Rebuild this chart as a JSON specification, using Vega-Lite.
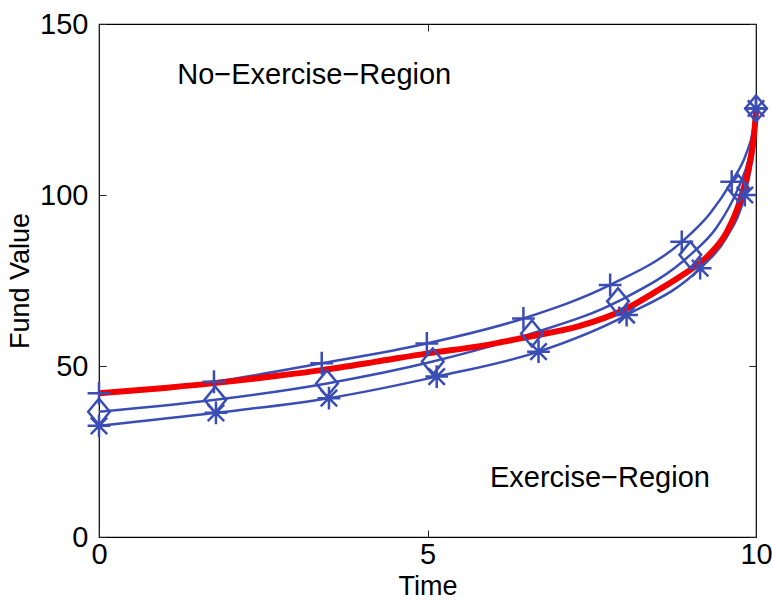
{
  "$schema": "https://vega.github.io/schema/vega-lite/v6.json",
  "width": 657,
  "height": 513,
  "autosize": {"type": "none"},
  "padding": {"left": 99, "top": 24, "right": 16, "bottom": 63},
  "background": "white",
  "config": {
    "font": "Liberation Sans",
    "view": {"stroke": "black", "strokeWidth": 1.2},
    "axis": {
      "domain": false,
      "grid": false,
      "tickSize": -7,
      "tickColor": "#222222",
      "tickWidth": 1,
      "labelFont": "Liberation Sans",
      "labelFontSize": 29,
      "labelColor": "black",
      "titleFont": "Liberation Sans",
      "titleFontWeight": "normal",
      "titleColor": "black"
    }
  },
  "datasets": {
    "blue": [
      {"s": "plus", "t": 0, "v": 42.0},
      {"s": "plus", "t": 1.75, "v": 45.4},
      {"s": "plus", "t": 3.39, "v": 50.8},
      {"s": "plus", "t": 4.99, "v": 56.6},
      {"s": "plus", "t": 6.46, "v": 63.9},
      {"s": "plus", "t": 7.78, "v": 73.7},
      {"s": "plus", "t": 8.87, "v": 86.3},
      {"s": "plus", "t": 9.63, "v": 103.9},
      {"s": "plus", "t": 10, "v": 125.3},
      {"s": "diamond", "t": 0, "v": 36.6},
      {"s": "diamond", "t": 1.77, "v": 40.1},
      {"s": "diamond", "t": 3.47, "v": 44.9},
      {"s": "diamond", "t": 5.08, "v": 51.3},
      {"s": "diamond", "t": 6.59, "v": 59.5},
      {"s": "diamond", "t": 7.9, "v": 68.9},
      {"s": "diamond", "t": 9.0, "v": 82.5},
      {"s": "diamond", "t": 9.73, "v": 102.0},
      {"s": "diamond", "t": 10, "v": 125.3},
      {"s": "star", "t": 0, "v": 32.5},
      {"s": "star", "t": 1.78, "v": 36.3},
      {"s": "star", "t": 3.5, "v": 40.6},
      {"s": "star", "t": 5.14, "v": 46.9},
      {"s": "star", "t": 6.69, "v": 54.2},
      {"s": "star", "t": 8.03, "v": 64.9},
      {"s": "star", "t": 9.15, "v": 78.6},
      {"s": "star", "t": 9.83, "v": 100.0},
      {"s": "star", "t": 10, "v": 125.3}
    ],
    "bluecurve": [
      {"s": "plus", "t": 0, "v": 42.0},
      {"s": "plus", "t": 1.75, "v": 45.4},
      {"s": "plus", "t": 3.39, "v": 50.8},
      {"s": "plus", "t": 4.99, "v": 56.6},
      {"s": "plus", "t": 6.46, "v": 63.9},
      {"s": "plus", "t": 7.78, "v": 73.7},
      {"s": "plus", "t": 8.87, "v": 86.3},
      {"s": "plus", "t": 9.3, "v": 94.6},
      {"s": "plus", "t": 9.63, "v": 103.9},
      {"s": "plus", "t": 9.85, "v": 112.0},
      {"s": "plus", "t": 9.95, "v": 118.5},
      {"s": "plus", "t": 10, "v": 125.3},
      {"s": "diamond", "t": 0, "v": 36.6},
      {"s": "diamond", "t": 1.77, "v": 40.1},
      {"s": "diamond", "t": 3.47, "v": 44.9},
      {"s": "diamond", "t": 5.08, "v": 51.3},
      {"s": "diamond", "t": 6.59, "v": 59.5},
      {"s": "diamond", "t": 7.9, "v": 68.9},
      {"s": "diamond", "t": 9.0, "v": 82.5},
      {"s": "diamond", "t": 9.4, "v": 90.5},
      {"s": "diamond", "t": 9.73, "v": 102.0},
      {"s": "diamond", "t": 9.9, "v": 111.3},
      {"s": "diamond", "t": 9.96, "v": 117.0},
      {"s": "diamond", "t": 10, "v": 125.3},
      {"s": "star", "t": 0, "v": 32.5},
      {"s": "star", "t": 1.78, "v": 36.3},
      {"s": "star", "t": 3.5, "v": 40.6},
      {"s": "star", "t": 5.14, "v": 46.9},
      {"s": "star", "t": 6.69, "v": 54.2},
      {"s": "star", "t": 8.03, "v": 64.9},
      {"s": "star", "t": 9.15, "v": 78.6},
      {"s": "star", "t": 9.55, "v": 87.5},
      {"s": "star", "t": 9.83, "v": 100.0},
      {"s": "star", "t": 9.92, "v": 107.8},
      {"s": "star", "t": 9.97, "v": 114.6},
      {"s": "star", "t": 10, "v": 125.3}
    ],
    "red": [
      {"t": 0, "v": 42.0},
      {"t": 1.0, "v": 43.6},
      {"t": 2.0, "v": 45.5},
      {"t": 2.75, "v": 47.2},
      {"t": 3.39, "v": 48.8},
      {"t": 4.2, "v": 51.2},
      {"t": 5.0, "v": 53.7},
      {"t": 5.8, "v": 55.8},
      {"t": 6.5, "v": 58.4},
      {"t": 7.32, "v": 61.7},
      {"t": 8.0, "v": 66.5},
      {"t": 8.54, "v": 72.5},
      {"t": 8.84, "v": 76.1},
      {"t": 9.3, "v": 82.8},
      {"t": 9.55, "v": 89.0},
      {"t": 9.76, "v": 98.5},
      {"t": 9.91, "v": 110.0},
      {"t": 9.97, "v": 117.5},
      {"t": 10, "v": 124.4}
    ],
    "notes": [
      {"label": "No−Exercise−Region", "t": 1.19, "v": 135.0},
      {"label": "Exercise−Region", "t": 5.95, "v": 17.3}
    ]
  },
  "resolve": {"axis": {"x": "independent", "y": "independent"}},
  "layer": [
    {
      "data": {"name": "bluecurve"},
      "mark": {"type": "line", "interpolate": "monotone", "color": "#3a4db5", "strokeWidth": 2.5},
      "encoding": {
        "x": {"field": "t", "type": "quantitative", "scale": {"domain": [0, 10], "nice": false, "zero": false},
              "axis": {"values": [0, 5, 10], "title": "Time", "titleFontSize": 27, "labelPadding": 10, "titlePadding": 4, "labelFlush": false}},
        "y": {"field": "v", "type": "quantitative", "scale": {"domain": [0, 150], "nice": false},
              "axis": {"values": [0, 50, 100, 150], "title": "Fund Value", "titleFontSize": 27, "labelPadding": 18, "titlePadding": 5}},
        "detail": {"field": "s"}
      }
    },
    {
      "data": {"name": "red"},
      "mark": {"type": "line", "interpolate": "monotone", "color": "#f20000", "strokeWidth": 6},
      "encoding": {
        "x": {"field": "t", "type": "quantitative", "axis": null},
        "y": {"field": "v", "type": "quantitative", "axis": null}
      }
    },
    {
      "data": {"name": "blue"},
      "mark": {"type": "point", "filled": false, "color": "#3a4db5", "strokeWidth": 2.5, "size": 520, "opacity": 1},
      "encoding": {
        "x": {"field": "t", "type": "quantitative", "axis": null},
        "y": {"field": "v", "type": "quantitative", "axis": null},
        "shape": {"field": "s", "type": "nominal", "legend": null,
                  "scale": {"domain": ["plus", "diamond", "star"],
                            "range": ["M-1,0L1,0M0,-1L0,1", "M-0.95,0L0,-1.15L0.95,0L0,1.15Z", "M-1,0L1,0M0,-1L0,1M-0.72,-0.72L0.72,0.72M-0.72,0.72L0.72,-0.72"]}}
      }
    },
    {
      "data": {"name": "notes"},
      "mark": {"type": "text", "align": "left", "baseline": "middle", "fontSize": 29, "font": "Liberation Sans", "color": "black"},
      "encoding": {
        "x": {"field": "t", "type": "quantitative",
              "axis": {"orient": "top", "values": [0, 5, 10], "labels": false, "title": null}},
        "y": {"field": "v", "type": "quantitative",
              "axis": {"orient": "right", "values": [0, 50, 100, 150], "labels": false, "title": null}},
        "text": {"field": "label"}
      }
    }
  ]
}
